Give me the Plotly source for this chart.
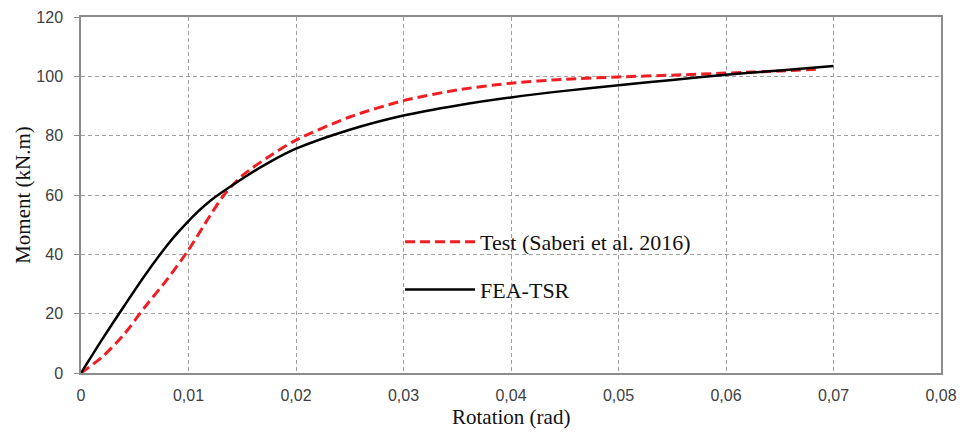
import plotly.graph_objects as go

# Data
fea_x = [0, 0.002, 0.004, 0.006, 0.008, 0.009, 0.01, 0.011, 0.012, 0.015, 0.0175, 0.02,
         0.025, 0.03, 0.035, 0.04, 0.045, 0.05, 0.055, 0.06, 0.065, 0.07]
fea_y = [0, 11.5, 22.5, 33.2, 43.0, 47.3, 51.2, 54.8, 58.0, 65.5, 71.0, 75.6,
         82.0, 86.8, 90.2, 92.9, 95.1, 97.0, 98.8, 100.5, 102.0, 103.5]

test_x = [0, 0.002, 0.004, 0.006, 0.008, 0.01, 0.012, 0.0133, 0.015, 0.0175, 0.02,
          0.025, 0.03, 0.035, 0.04, 0.045, 0.05, 0.055, 0.06, 0.065, 0.0688]
test_y = [0, 5.5, 13, 22.5, 31.5, 41.5, 53, 60, 66.5, 73, 78.5,
          86.3, 91.8, 95.4, 97.7, 99.0, 99.8, 100.4, 101.1, 101.8, 102.5]

x_ticks = [0, 0.01, 0.02, 0.03, 0.04, 0.05, 0.06, 0.07, 0.08]
x_tick_labels = ["0", "0,01", "0,02", "0,03", "0,04", "0,05", "0,06", "0,07", "0,08"]
y_ticks = [0, 20, 40, 60, 80, 100, 120]

x_title = "Rotation (rad)"
y_title = "Moment (kN.m)"

title_font = dict(family="Liberation Serif, Times New Roman, serif", size=21, color="#111")

fig = go.Figure()
fig.add_trace(go.Scatter(
    x=test_x, y=test_y, mode="lines", name="Test (Saberi et al. 2016)",
    legendgroup="a",
    line=dict(color="#f01e23", width=3, dash="10px,5px", shape="spline", smoothing=0.8),
))
fig.add_trace(go.Scatter(
    x=fea_x, y=fea_y, mode="lines", name="FEA-TSR",
    legendgroup="b",
    line=dict(color="#000000", width=2.5, shape="spline", smoothing=0.8),
))

axis_common = dict(
    showline=True, linecolor="#8c8c8c", linewidth=1.5, mirror=True,
    showgrid=True, gridcolor="#a0a0a0", gridwidth=1, griddash="4px,3px",
    zeroline=False, automargin=False,
    tickfont=dict(family="Liberation Sans, Arial, sans-serif", size=16, color="#404040"),
)

fig.update_xaxes(
    range=[0, 0.08], tickvals=x_ticks, ticktext=x_tick_labels,
    ticks="", ticklabelstandoff=7,
    **axis_common,
)
fig.update_yaxes(
    range=[0, 120], tickvals=y_ticks,
    ticks="outside", ticklen=5, tickcolor="#8c8c8c", ticklabelstandoff=8,
    title=dict(text=y_title, standoff=0, font=title_font),
    **axis_common,
)

fig.add_annotation(
    text=x_title, xref="paper", yref="paper", x=0.5, y=-0.124,
    xanchor="center", yanchor="middle", showarrow=False, font=title_font,
)

fig.update_layout(
    width=957, height=425,
    margin=dict(l=73, r=24, t=9, b=60),
    paper_bgcolor="white", plot_bgcolor="white",
    showlegend=True,
    legend=dict(
        x=0.371, y=0.427, xanchor="left", yanchor="top",
        bgcolor="rgba(0,0,0,0)", borderwidth=0,
        font=dict(family="Liberation Serif, Times New Roman, serif", size=22, color="#111"),
        tracegroupgap=16, itemwidth=70,
    ),
)

fig.write_html("out.html")
